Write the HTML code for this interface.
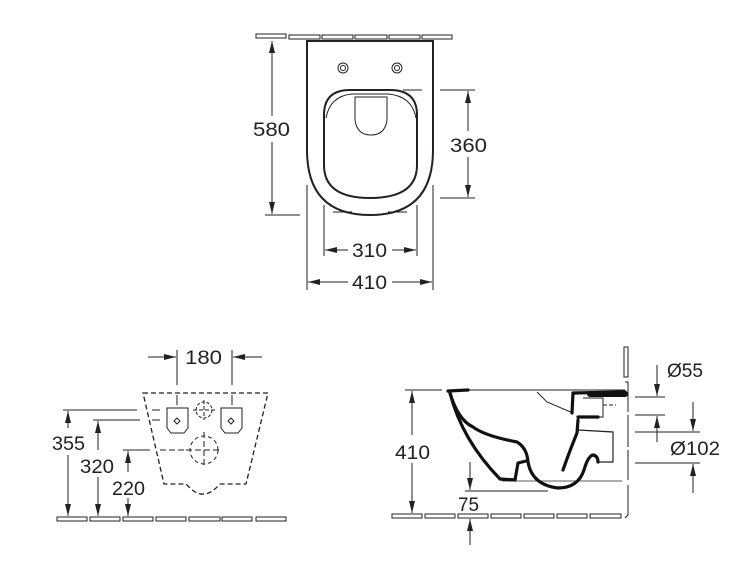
<!DOCTYPE html>
<html><head><style>body{margin:0;background:#fff}svg{display:block}text{font-family:"Liberation Sans",sans-serif;font-size:19px;fill:#222}</style></head><body>
<svg width="750" height="563" viewBox="0 0 750 563" xmlns="http://www.w3.org/2000/svg">
<defs><marker id="a" viewBox="0 0 12 6" refX="12" refY="3" markerWidth="12" markerHeight="6" markerUnits="userSpaceOnUse" orient="auto-start-reverse"><path d="M0,0L12,3L0,6z" fill="#222"/></marker></defs>
<g fill="none" stroke="#222" stroke-width="1">
<!-- TOP VIEW -->
<rect x="256" y="34" width="30" height="4"/><rect x="289" y="35" width="31" height="4"/><rect x="322" y="35" width="31" height="4"/><rect x="355" y="35" width="32" height="4"/><rect x="389" y="35" width="31" height="4"/><rect x="422" y="35" width="30" height="4"/>
<path d="M307,41 L433,41 L433,150 Q433,215 370,215 Q307,215 307,150 Z" stroke-width="2"/>
<path d="M324,115 Q324,90 350,90 L390,90 Q417,90 417,115 L417,165 Q417,198 370,198 Q324,198 324,165 Z" stroke-width="2"/>
<path d="M326,118 Q330,96 352,94 L388,94 Q412,96 416,118"/>
<path d="M355,97 L387,97 L387,120 Q385,135 371,135 Q357,135 355,120 Z"/>
<circle cx="343" cy="68" r="5"/><circle cx="343" cy="68" r="2.5"/><circle cx="397" cy="68" r="5"/><circle cx="397" cy="68" r="2.5"/>
<line x1="272" y1="41" x2="272" y2="116" marker-start="url(#a)"/><line x1="272" y1="142" x2="272" y2="214" marker-end="url(#a)"/>
<line x1="265" y1="215" x2="300" y2="215"/>
<line x1="403" y1="90" x2="422" y2="90"/><line x1="440" y1="90" x2="475" y2="90"/><line x1="440" y1="198" x2="475" y2="198"/>
<line x1="468" y1="91" x2="468" y2="131" marker-start="url(#a)"/><line x1="468" y1="157" x2="468" y2="197" marker-end="url(#a)"/>
<line x1="324" y1="205" x2="324" y2="256"/><line x1="417" y1="205" x2="417" y2="256"/>
<line x1="325" y1="250" x2="348" y2="250" marker-start="url(#a)"/><line x1="392" y1="250" x2="416" y2="250" marker-end="url(#a)"/>
<line x1="307" y1="185" x2="307" y2="290"/><line x1="433" y1="185" x2="433" y2="290"/>
<line x1="308" y1="282" x2="348" y2="282" marker-start="url(#a)"/><line x1="392" y1="282" x2="432" y2="282" marker-end="url(#a)"/>
<line x1="333" y1="212" x2="352" y2="212"/><line x1="388" y1="212" x2="407" y2="212"/>

<!-- BOTTOM LEFT -->
<path d="M143,393 L268,393 L246,484 L220,484 Q210,495 203,494 Q196,495 186,484 L164,484 Z" stroke-dasharray="5,3" stroke-width="1.3"/>
<path d="M167,408 L188,408 L188,428 L184,433 L171,433 L167,428 Z"/><path d="M221,408 L242,408 L242,428 L238,433 L225,433 L221,428 Z"/>
<path d="M174,421 L177,418 L180,421 L177,424 Z"/><path d="M228,421 L231,418 L234,421 L231,424 Z"/>
<circle cx="204" cy="410" r="8" stroke-dasharray="3,2"/><line x1="193" y1="410" x2="215" y2="410" stroke-dasharray="4,2"/><line x1="204" y1="400" x2="204" y2="420" stroke-dasharray="4,2"/>
<circle cx="204" cy="450" r="14" stroke-dasharray="4,3"/><line x1="186" y1="450" x2="222" y2="450" stroke-dasharray="6,3"/><line x1="204" y1="432" x2="204" y2="468" stroke-dasharray="6,3"/>
<line x1="177" y1="350" x2="177" y2="385"/><line x1="232" y1="350" x2="232" y2="385"/><line x1="177" y1="395" x2="177" y2="405" /><line x1="232" y1="395" x2="232" y2="405"/>
<line x1="148" y1="357" x2="176" y2="357" marker-end="url(#a)"/><line x1="262" y1="357" x2="233" y2="357" marker-end="url(#a)"/>
<line x1="63" y1="410" x2="137" y2="410"/><line x1="152" y1="410" x2="160" y2="410"/>
<line x1="93" y1="420" x2="140" y2="420"/><line x1="152" y1="420" x2="160" y2="420"/>
<line x1="123" y1="450" x2="150" y2="450"/><line x1="160" y1="450" x2="185" y2="450" stroke-dasharray="6,3"/>
<line x1="68" y1="411" x2="68" y2="428" marker-start="url(#a)"/><line x1="68" y1="455" x2="68" y2="516" marker-end="url(#a)"/>
<line x1="98" y1="421" x2="98" y2="450" marker-start="url(#a)"/><line x1="98" y1="477" x2="98" y2="516" marker-end="url(#a)"/>
<line x1="128" y1="451" x2="128" y2="472" marker-start="url(#a)"/><line x1="128" y1="498" x2="128" y2="516" marker-end="url(#a)"/>
<rect x="57" y="517" width="30" height="4"/><rect x="90" y="517" width="30" height="4"/><rect x="123" y="517" width="30" height="4"/><rect x="156" y="517" width="30" height="4"/><rect x="189" y="517" width="31" height="4"/><rect x="222" y="517" width="30" height="4"/><rect x="256" y="517" width="30" height="4"/>

<!-- BOTTOM RIGHT -->
<rect x="624" y="347" width="4" height="30"/>
<path d="M625,382 L628,382 L628,412 M628,415 L628,447 M628,450 L628,480 M628,485 L628,515 L625,518"/>
<rect x="392" y="514" width="30" height="4"/><rect x="425" y="514" width="30" height="4"/><rect x="458" y="514" width="30" height="4"/><rect x="491" y="514" width="30" height="4"/><rect x="524" y="514" width="30" height="4"/><rect x="557" y="514" width="30" height="4"/><rect x="590" y="514" width="31" height="4"/>
<line x1="448" y1="390" x2="625" y2="390"/>
<path d="M537,392 L547,402 L573,413"/>
<line x1="502" y1="481" x2="622" y2="481" stroke-width="0.8"/>
<path d="M578,430 L613,432 L613,462 L598,462" stroke-width="1.2"/>
<path d="M583,398 L603,398 L603,417 L583,417"/>
<line x1="603" y1="405" x2="616" y2="405" stroke-dasharray="4,2"/>
</g>
<g fill="none" stroke="#111" stroke-width="3.2" stroke-linejoin="round" stroke-linecap="round">
<path d="M448,391 L468,390"/>
<path d="M450,393 Q462,440 500,479 L515,480 L518,463 L526,461"/>
<path d="M450,393 Q458,420 473,427 Q485,436 517,442 Q527,448 528,462 Q532,485 558,488 Q578,488 584,470 Q588,456 593,455 Q598,456 598,462"/>
<path d="M563,470 Q570,450 577,433 L578,420"/>
<path d="M572,413 L573,393 L625,392 M578,417 L598,417"/>
<path d="M590,394 L625,394" stroke-width="6"/>
</g>
<g fill="none" stroke="#222" stroke-width="1">
<line x1="412" y1="391" x2="412" y2="435" marker-start="url(#a)"/><line x1="412" y1="463" x2="412" y2="513" marker-end="url(#a)"/>
<line x1="405" y1="390" x2="442" y2="390"/>
<line x1="470" y1="462" x2="470" y2="490" marker-end="url(#a)"/><line x1="465" y1="491" x2="548" y2="491"/>
<line x1="470" y1="545" x2="470" y2="519" marker-end="url(#a)"/>
<line x1="657" y1="365" x2="657" y2="396" marker-end="url(#a)"/><line x1="635" y1="397" x2="665" y2="397"/><line x1="635" y1="415" x2="665" y2="415"/><line x1="657" y1="442" x2="657" y2="416" marker-end="url(#a)"/>
<line x1="693" y1="402" x2="693" y2="431" marker-end="url(#a)"/><line x1="635" y1="432" x2="700" y2="432"/><line x1="635" y1="463" x2="700" y2="463"/><line x1="693" y1="493" x2="693" y2="464" marker-end="url(#a)"/>
</g>
<g lengthAdjust="spacingAndGlyphs">
<text x="253" y="136" textLength="37" lengthAdjust="spacingAndGlyphs">580</text>
<text x="450" y="152" textLength="37" lengthAdjust="spacingAndGlyphs">360</text>
<text x="352" y="257" textLength="35" lengthAdjust="spacingAndGlyphs">310</text>
<text x="352" y="289" textLength="35" lengthAdjust="spacingAndGlyphs">410</text>
<text x="185" y="364" textLength="37" lengthAdjust="spacingAndGlyphs">180</text>
<text x="52" y="450" textLength="33" lengthAdjust="spacingAndGlyphs">355</text>
<text x="80" y="473" textLength="34" lengthAdjust="spacingAndGlyphs">320</text>
<text x="112" y="495" textLength="33" lengthAdjust="spacingAndGlyphs">220</text>
<text x="395" y="459" textLength="35" lengthAdjust="spacingAndGlyphs">410</text>
<text x="458" y="511" textLength="21" lengthAdjust="spacingAndGlyphs">75</text>
<text x="667" y="377" textLength="36" lengthAdjust="spacingAndGlyphs">Ø55</text>
<text x="670" y="455" textLength="50" lengthAdjust="spacingAndGlyphs">Ø102</text>
</g>
</svg>
</body></html>
